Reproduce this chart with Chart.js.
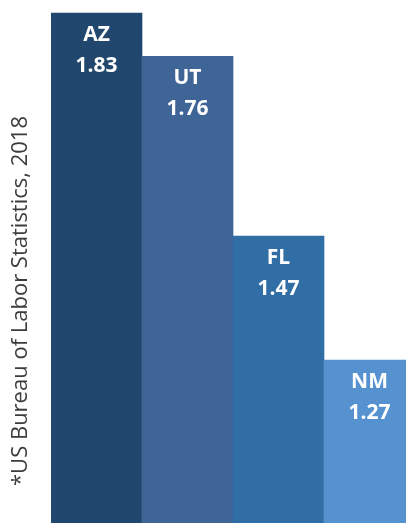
<!DOCTYPE html>
<html>
<head>
<meta charset="utf-8">
<script src="https://cdn.jsdelivr.net/npm/chart.js@4.4.1/dist/chart.umd.min.js"></script>
<style>
  html, body { margin: 0; padding: 0; overflow: hidden; background: #fff; }
  #wrap { width: 415px; height: 523px; }
</style>
</head>
<body>
<div id="wrap"><canvas id="rateChart"></canvas></div>
<script>
const states = ['AZ', 'UT', 'FL', 'NM'];
const rates = [1.83, 1.76, 1.47, 1.27];
const barColors = ['#22476e', '#3f6597', '#326ea6', '#5592cf'];
const sourceNote = '*US Bureau of Labor Statistics, 2018';

// white state + value text inside the top of each bar
const barLabels = {
    id: 'barLabels',
    afterDatasetsDraw(chart) {
        const ctx = chart.ctx;
        const meta = chart.getDatasetMeta(0);
        ctx.save();
        ctx.fillStyle = '#fff';
        ctx.textAlign = 'center';
        ctx.textBaseline = 'middle';
        ctx.font = 'bold 21px "Open Sans"';
        meta.data.forEach((bar, i) => {
            ctx.fillText(states[i], bar.x, bar.y + 22);
            ctx.fillText(rates[i].toFixed(2), bar.x, bar.y + 53);
        });
        ctx.restore();
    }
};

// rotated source note on the left
const sideNote = {
    id: 'sideNote',
    afterDraw(chart) {
        const ctx = chart.ctx;
        ctx.save();
        ctx.translate(21, 301);
        ctx.rotate(-Math.PI / 2);
        ctx.fillStyle = '#3c3c3c';
        ctx.font = '22px "Open Sans"';
        ctx.textAlign = 'center';
        ctx.textBaseline = 'middle';
        ctx.fillText(sourceNote, 0, 0);
        ctx.restore();
    }
};

new Chart(document.getElementById('rateChart'), {
    type: 'bar',
    data: {
        labels: states,
        datasets: [{
            data: rates,
            backgroundColor: barColors,
            borderWidth: 0,
            barPercentage: 1,
            categoryPercentage: 1
        }]
    },
    options: {
        responsive: true,
        maintainAspectRatio: false,
        animation: false,
        layout: { padding: { left: 51, right: 0, top: 0, bottom: 0 } },
        scales: {
            x: { display: false },
            y: { display: false, min: 1.007, max: 1.851 }
        },
        plugins: {
            legend: { display: false },
            tooltip: { enabled: false }
        }
    },
    plugins: [barLabels, sideNote]
});
</script>
</body>
</html>
